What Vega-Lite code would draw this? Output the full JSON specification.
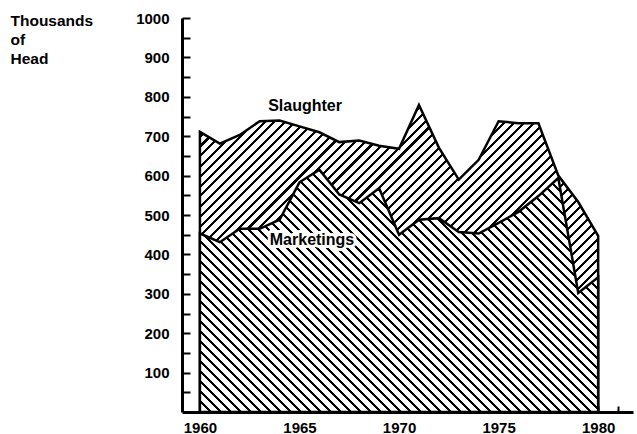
{
"$schema":"https://vega.github.io/schema/vega-lite/v6.json",
"width":451,"height":394,
"autosize":{"type":"none"},
"padding":{"left":182,"top":18,"right":4,"bottom":22},
"background":"white",
"config":{
"view":{"stroke":null},
"axis":{"domainColor":"black","domainWidth":3,"tickColor":"black","labelColor":"black","labelFont":"Liberation Sans","labelFontWeight":"bold","grid":false,"labelOverlap":false,"labelFlush":false,"zindex":1,"titleColor":"black"},
"axisX":{"tickSize":-6,"tickWidth":2,"labelFontSize":15,"labelPadding":14},
"axisY":{"tickSize":-8,"tickWidth":2,"labelFontSize":15,"labelPadding":21,"titleAngle":0,"titleAlign":"left","titleBaseline":"alphabetic","titleX":-172,"titleY":7,"titleFont":"Liberation Sans","titleFontWeight":"bold","titleFontSize":15.5,"titleLineHeight":19}
},
"datasets":{
"series":[
{"year":1960,"slaughter":711,"marketings":453},
{"year":1961,"slaughter":681,"marketings":431},
{"year":1962,"slaughter":703,"marketings":465},
{"year":1963,"slaughter":738,"marketings":465},
{"year":1964,"slaughter":740,"marketings":488},
{"year":1965,"slaughter":725,"marketings":583},
{"year":1966,"slaughter":710,"marketings":615},
{"year":1967,"slaughter":685,"marketings":552},
{"year":1968,"slaughter":689,"marketings":530},
{"year":1969,"slaughter":676,"marketings":568},
{"year":1970,"slaughter":668,"marketings":450},
{"year":1971,"slaughter":779,"marketings":488},
{"year":1972,"slaughter":671,"marketings":492},
{"year":1973,"slaughter":590,"marketings":457},
{"year":1974,"slaughter":640,"marketings":453},
{"year":1975,"slaughter":738,"marketings":480},
{"year":1976,"slaughter":733,"marketings":508},
{"year":1977,"slaughter":733,"marketings":548},
{"year":1978,"slaughter":600,"marketings":594},
{"year":1979,"slaughter":533,"marketings":302},
{"year":1980,"slaughter":447,"marketings":342}
],
"labels":[
{"label":"Slaughter","year":1965.28,"value":776},
{"label":"Marketings","year":1965.63,"value":436}
]
},
"layer":[
{"data":{"name":"series"},
"mark":{"type":"area","stroke":"black","strokeWidth":2.5,"strokeJoin":"miter",
"fill":{"gradient":"linear","x1":0,"y1":0,"x2":1.0083,"y2":0.7771,"stops":[
{"offset":0,"color":"#000"},{"offset":0.0047,"color":"#000"},{"offset":0.0047,"color":"#fff"},{"offset":0.0156,"color":"#fff"},
{"offset":0.0156,"color":"#000"},{"offset":0.0203,"color":"#000"},{"offset":0.0203,"color":"#fff"},{"offset":0.0313,"color":"#fff"},
{"offset":0.0313,"color":"#000"},{"offset":0.036,"color":"#000"},{"offset":0.036,"color":"#fff"},{"offset":0.0469,"color":"#fff"},
{"offset":0.0469,"color":"#000"},{"offset":0.0516,"color":"#000"},{"offset":0.0516,"color":"#fff"},{"offset":0.0625,"color":"#fff"},
{"offset":0.0625,"color":"#000"},{"offset":0.0672,"color":"#000"},{"offset":0.0672,"color":"#fff"},{"offset":0.0781,"color":"#fff"},
{"offset":0.0781,"color":"#000"},{"offset":0.0828,"color":"#000"},{"offset":0.0828,"color":"#fff"},{"offset":0.0938,"color":"#fff"},
{"offset":0.0938,"color":"#000"},{"offset":0.0985,"color":"#000"},{"offset":0.0985,"color":"#fff"},{"offset":0.1094,"color":"#fff"},
{"offset":0.1094,"color":"#000"},{"offset":0.1141,"color":"#000"},{"offset":0.1141,"color":"#fff"},{"offset":0.125,"color":"#fff"},
{"offset":0.125,"color":"#000"},{"offset":0.1297,"color":"#000"},{"offset":0.1297,"color":"#fff"},{"offset":0.1406,"color":"#fff"},
{"offset":0.1406,"color":"#000"},{"offset":0.1453,"color":"#000"},{"offset":0.1453,"color":"#fff"},{"offset":0.1563,"color":"#fff"},
{"offset":0.1563,"color":"#000"},{"offset":0.161,"color":"#000"},{"offset":0.161,"color":"#fff"},{"offset":0.1719,"color":"#fff"},
{"offset":0.1719,"color":"#000"},{"offset":0.1766,"color":"#000"},{"offset":0.1766,"color":"#fff"},{"offset":0.1875,"color":"#fff"},
{"offset":0.1875,"color":"#000"},{"offset":0.1922,"color":"#000"},{"offset":0.1922,"color":"#fff"},{"offset":0.2031,"color":"#fff"},
{"offset":0.2031,"color":"#000"},{"offset":0.2078,"color":"#000"},{"offset":0.2078,"color":"#fff"},{"offset":0.2188,"color":"#fff"},
{"offset":0.2188,"color":"#000"},{"offset":0.2235,"color":"#000"},{"offset":0.2235,"color":"#fff"},{"offset":0.2344,"color":"#fff"},
{"offset":0.2344,"color":"#000"},{"offset":0.2391,"color":"#000"},{"offset":0.2391,"color":"#fff"},{"offset":0.25,"color":"#fff"},
{"offset":0.25,"color":"#000"},{"offset":0.2547,"color":"#000"},{"offset":0.2547,"color":"#fff"},{"offset":0.2656,"color":"#fff"},
{"offset":0.2656,"color":"#000"},{"offset":0.2703,"color":"#000"},{"offset":0.2703,"color":"#fff"},{"offset":0.2813,"color":"#fff"},
{"offset":0.2813,"color":"#000"},{"offset":0.286,"color":"#000"},{"offset":0.286,"color":"#fff"},{"offset":0.2969,"color":"#fff"},
{"offset":0.2969,"color":"#000"},{"offset":0.3016,"color":"#000"},{"offset":0.3016,"color":"#fff"},{"offset":0.3125,"color":"#fff"},
{"offset":0.3125,"color":"#000"},{"offset":0.3172,"color":"#000"},{"offset":0.3172,"color":"#fff"},{"offset":0.3281,"color":"#fff"},
{"offset":0.3281,"color":"#000"},{"offset":0.3328,"color":"#000"},{"offset":0.3328,"color":"#fff"},{"offset":0.3438,"color":"#fff"},
{"offset":0.3438,"color":"#000"},{"offset":0.3485,"color":"#000"},{"offset":0.3485,"color":"#fff"},{"offset":0.3594,"color":"#fff"},
{"offset":0.3594,"color":"#000"},{"offset":0.3641,"color":"#000"},{"offset":0.3641,"color":"#fff"},{"offset":0.375,"color":"#fff"},
{"offset":0.375,"color":"#000"},{"offset":0.3797,"color":"#000"},{"offset":0.3797,"color":"#fff"},{"offset":0.3906,"color":"#fff"},
{"offset":0.3906,"color":"#000"},{"offset":0.3953,"color":"#000"},{"offset":0.3953,"color":"#fff"},{"offset":0.4063,"color":"#fff"},
{"offset":0.4063,"color":"#000"},{"offset":0.411,"color":"#000"},{"offset":0.411,"color":"#fff"},{"offset":0.4219,"color":"#fff"},
{"offset":0.4219,"color":"#000"},{"offset":0.4266,"color":"#000"},{"offset":0.4266,"color":"#fff"},{"offset":0.4375,"color":"#fff"},
{"offset":0.4375,"color":"#000"},{"offset":0.4422,"color":"#000"},{"offset":0.4422,"color":"#fff"},{"offset":0.4531,"color":"#fff"},
{"offset":0.4531,"color":"#000"},{"offset":0.4578,"color":"#000"},{"offset":0.4578,"color":"#fff"},{"offset":0.4688,"color":"#fff"},
{"offset":0.4688,"color":"#000"},{"offset":0.4735,"color":"#000"},{"offset":0.4735,"color":"#fff"},{"offset":0.4844,"color":"#fff"},
{"offset":0.4844,"color":"#000"},{"offset":0.4891,"color":"#000"},{"offset":0.4891,"color":"#fff"},{"offset":0.5,"color":"#fff"},
{"offset":0.5,"color":"#000"},{"offset":0.5047,"color":"#000"},{"offset":0.5047,"color":"#fff"},{"offset":0.5156,"color":"#fff"},
{"offset":0.5156,"color":"#000"},{"offset":0.5203,"color":"#000"},{"offset":0.5203,"color":"#fff"},{"offset":0.5313,"color":"#fff"},
{"offset":0.5313,"color":"#000"},{"offset":0.536,"color":"#000"},{"offset":0.536,"color":"#fff"},{"offset":0.5469,"color":"#fff"},
{"offset":0.5469,"color":"#000"},{"offset":0.5516,"color":"#000"},{"offset":0.5516,"color":"#fff"},{"offset":0.5625,"color":"#fff"},
{"offset":0.5625,"color":"#000"},{"offset":0.5672,"color":"#000"},{"offset":0.5672,"color":"#fff"},{"offset":0.5781,"color":"#fff"},
{"offset":0.5781,"color":"#000"},{"offset":0.5828,"color":"#000"},{"offset":0.5828,"color":"#fff"},{"offset":0.5938,"color":"#fff"},
{"offset":0.5938,"color":"#000"},{"offset":0.5985,"color":"#000"},{"offset":0.5985,"color":"#fff"},{"offset":0.6094,"color":"#fff"},
{"offset":0.6094,"color":"#000"},{"offset":0.6141,"color":"#000"},{"offset":0.6141,"color":"#fff"},{"offset":0.625,"color":"#fff"},
{"offset":0.625,"color":"#000"},{"offset":0.6297,"color":"#000"},{"offset":0.6297,"color":"#fff"},{"offset":0.6406,"color":"#fff"},
{"offset":0.6406,"color":"#000"},{"offset":0.6453,"color":"#000"},{"offset":0.6453,"color":"#fff"},{"offset":0.6563,"color":"#fff"},
{"offset":0.6563,"color":"#000"},{"offset":0.661,"color":"#000"},{"offset":0.661,"color":"#fff"},{"offset":0.6719,"color":"#fff"},
{"offset":0.6719,"color":"#000"},{"offset":0.6766,"color":"#000"},{"offset":0.6766,"color":"#fff"},{"offset":0.6875,"color":"#fff"},
{"offset":0.6875,"color":"#000"},{"offset":0.6922,"color":"#000"},{"offset":0.6922,"color":"#fff"},{"offset":0.7031,"color":"#fff"},
{"offset":0.7031,"color":"#000"},{"offset":0.7078,"color":"#000"},{"offset":0.7078,"color":"#fff"},{"offset":0.7188,"color":"#fff"},
{"offset":0.7188,"color":"#000"},{"offset":0.7235,"color":"#000"},{"offset":0.7235,"color":"#fff"},{"offset":0.7344,"color":"#fff"},
{"offset":0.7344,"color":"#000"},{"offset":0.7391,"color":"#000"},{"offset":0.7391,"color":"#fff"},{"offset":0.75,"color":"#fff"},
{"offset":0.75,"color":"#000"},{"offset":0.7547,"color":"#000"},{"offset":0.7547,"color":"#fff"},{"offset":0.7656,"color":"#fff"},
{"offset":0.7656,"color":"#000"},{"offset":0.7703,"color":"#000"},{"offset":0.7703,"color":"#fff"},{"offset":0.7813,"color":"#fff"},
{"offset":0.7813,"color":"#000"},{"offset":0.786,"color":"#000"},{"offset":0.786,"color":"#fff"},{"offset":0.7969,"color":"#fff"},
{"offset":0.7969,"color":"#000"},{"offset":0.8016,"color":"#000"},{"offset":0.8016,"color":"#fff"},{"offset":0.8125,"color":"#fff"},
{"offset":0.8125,"color":"#000"},{"offset":0.8172,"color":"#000"},{"offset":0.8172,"color":"#fff"},{"offset":0.8281,"color":"#fff"},
{"offset":0.8281,"color":"#000"},{"offset":0.8328,"color":"#000"},{"offset":0.8328,"color":"#fff"},{"offset":0.8438,"color":"#fff"},
{"offset":0.8438,"color":"#000"},{"offset":0.8485,"color":"#000"},{"offset":0.8485,"color":"#fff"},{"offset":0.8594,"color":"#fff"},
{"offset":0.8594,"color":"#000"},{"offset":0.8641,"color":"#000"},{"offset":0.8641,"color":"#fff"},{"offset":0.875,"color":"#fff"},
{"offset":0.875,"color":"#000"},{"offset":0.8797,"color":"#000"},{"offset":0.8797,"color":"#fff"},{"offset":0.8906,"color":"#fff"},
{"offset":0.8906,"color":"#000"},{"offset":0.8953,"color":"#000"},{"offset":0.8953,"color":"#fff"},{"offset":0.9063,"color":"#fff"},
{"offset":0.9063,"color":"#000"},{"offset":0.911,"color":"#000"},{"offset":0.911,"color":"#fff"},{"offset":0.9219,"color":"#fff"},
{"offset":0.9219,"color":"#000"},{"offset":0.9266,"color":"#000"},{"offset":0.9266,"color":"#fff"},{"offset":0.9375,"color":"#fff"},
{"offset":0.9375,"color":"#000"},{"offset":0.9422,"color":"#000"},{"offset":0.9422,"color":"#fff"},{"offset":0.9531,"color":"#fff"},
{"offset":0.9531,"color":"#000"},{"offset":0.9578,"color":"#000"},{"offset":0.9578,"color":"#fff"},{"offset":0.9688,"color":"#fff"},
{"offset":0.9688,"color":"#000"},{"offset":0.9735,"color":"#000"},{"offset":0.9735,"color":"#fff"},{"offset":0.9844,"color":"#fff"},
{"offset":0.9844,"color":"#000"},{"offset":0.9891,"color":"#000"},{"offset":0.9891,"color":"#fff"},{"offset":1,"color":"#fff"}
]}},
"encoding":{
"x":{"field":"year","type":"quantitative","title":null,"scale":{"domain":[1959.1,1981.75],"nice":false,"zero":false},
"axis":{"values":[1960,1961,1962,1963,1964,1965,1966,1967,1968,1969,1970,1971,1972,1973,1974,1975,1976,1977,1978,1979,1980,1981],"tickCount":100,"format":"d","labelOverlap":false,"labelFlush":false,"labelExpr":"datum.value % 5 == 0 ? datum.label : ''"}},
"y":{"field":"slaughter","type":"quantitative","stack":null,"title":["Thousands","of","Head"],"scale":{"domain":[0,1000],"nice":false},
"axis":{"values":[50,100,150,200,250,300,350,400,450,500,550,600,650,700,750,800,850,900,950,1000],"tickCount":100,"format":"d","labelOverlap":false,"labelExpr":"datum.value % 100 == 0 ? datum.label : ''"}}
}},
{"data":{"name":"series"},
"mark":{"type":"area","stroke":"black","strokeWidth":2.5,"strokeJoin":"miter",
"fill":{"gradient":"linear","x1":0,"y1":1,"x2":1.1729,"y2":0.2863,"stops":[
{"offset":0,"color":"#000"},{"offset":0.0047,"color":"#000"},{"offset":0.0047,"color":"#fff"},{"offset":0.0156,"color":"#fff"},
{"offset":0.0156,"color":"#000"},{"offset":0.0203,"color":"#000"},{"offset":0.0203,"color":"#fff"},{"offset":0.0313,"color":"#fff"},
{"offset":0.0313,"color":"#000"},{"offset":0.036,"color":"#000"},{"offset":0.036,"color":"#fff"},{"offset":0.0469,"color":"#fff"},
{"offset":0.0469,"color":"#000"},{"offset":0.0516,"color":"#000"},{"offset":0.0516,"color":"#fff"},{"offset":0.0625,"color":"#fff"},
{"offset":0.0625,"color":"#000"},{"offset":0.0672,"color":"#000"},{"offset":0.0672,"color":"#fff"},{"offset":0.0781,"color":"#fff"},
{"offset":0.0781,"color":"#000"},{"offset":0.0828,"color":"#000"},{"offset":0.0828,"color":"#fff"},{"offset":0.0938,"color":"#fff"},
{"offset":0.0938,"color":"#000"},{"offset":0.0985,"color":"#000"},{"offset":0.0985,"color":"#fff"},{"offset":0.1094,"color":"#fff"},
{"offset":0.1094,"color":"#000"},{"offset":0.1141,"color":"#000"},{"offset":0.1141,"color":"#fff"},{"offset":0.125,"color":"#fff"},
{"offset":0.125,"color":"#000"},{"offset":0.1297,"color":"#000"},{"offset":0.1297,"color":"#fff"},{"offset":0.1406,"color":"#fff"},
{"offset":0.1406,"color":"#000"},{"offset":0.1453,"color":"#000"},{"offset":0.1453,"color":"#fff"},{"offset":0.1563,"color":"#fff"},
{"offset":0.1563,"color":"#000"},{"offset":0.161,"color":"#000"},{"offset":0.161,"color":"#fff"},{"offset":0.1719,"color":"#fff"},
{"offset":0.1719,"color":"#000"},{"offset":0.1766,"color":"#000"},{"offset":0.1766,"color":"#fff"},{"offset":0.1875,"color":"#fff"},
{"offset":0.1875,"color":"#000"},{"offset":0.1922,"color":"#000"},{"offset":0.1922,"color":"#fff"},{"offset":0.2031,"color":"#fff"},
{"offset":0.2031,"color":"#000"},{"offset":0.2078,"color":"#000"},{"offset":0.2078,"color":"#fff"},{"offset":0.2188,"color":"#fff"},
{"offset":0.2188,"color":"#000"},{"offset":0.2235,"color":"#000"},{"offset":0.2235,"color":"#fff"},{"offset":0.2344,"color":"#fff"},
{"offset":0.2344,"color":"#000"},{"offset":0.2391,"color":"#000"},{"offset":0.2391,"color":"#fff"},{"offset":0.25,"color":"#fff"},
{"offset":0.25,"color":"#000"},{"offset":0.2547,"color":"#000"},{"offset":0.2547,"color":"#fff"},{"offset":0.2656,"color":"#fff"},
{"offset":0.2656,"color":"#000"},{"offset":0.2703,"color":"#000"},{"offset":0.2703,"color":"#fff"},{"offset":0.2813,"color":"#fff"},
{"offset":0.2813,"color":"#000"},{"offset":0.286,"color":"#000"},{"offset":0.286,"color":"#fff"},{"offset":0.2969,"color":"#fff"},
{"offset":0.2969,"color":"#000"},{"offset":0.3016,"color":"#000"},{"offset":0.3016,"color":"#fff"},{"offset":0.3125,"color":"#fff"},
{"offset":0.3125,"color":"#000"},{"offset":0.3172,"color":"#000"},{"offset":0.3172,"color":"#fff"},{"offset":0.3281,"color":"#fff"},
{"offset":0.3281,"color":"#000"},{"offset":0.3328,"color":"#000"},{"offset":0.3328,"color":"#fff"},{"offset":0.3438,"color":"#fff"},
{"offset":0.3438,"color":"#000"},{"offset":0.3485,"color":"#000"},{"offset":0.3485,"color":"#fff"},{"offset":0.3594,"color":"#fff"},
{"offset":0.3594,"color":"#000"},{"offset":0.3641,"color":"#000"},{"offset":0.3641,"color":"#fff"},{"offset":0.375,"color":"#fff"},
{"offset":0.375,"color":"#000"},{"offset":0.3797,"color":"#000"},{"offset":0.3797,"color":"#fff"},{"offset":0.3906,"color":"#fff"},
{"offset":0.3906,"color":"#000"},{"offset":0.3953,"color":"#000"},{"offset":0.3953,"color":"#fff"},{"offset":0.4063,"color":"#fff"},
{"offset":0.4063,"color":"#000"},{"offset":0.411,"color":"#000"},{"offset":0.411,"color":"#fff"},{"offset":0.4219,"color":"#fff"},
{"offset":0.4219,"color":"#000"},{"offset":0.4266,"color":"#000"},{"offset":0.4266,"color":"#fff"},{"offset":0.4375,"color":"#fff"},
{"offset":0.4375,"color":"#000"},{"offset":0.4422,"color":"#000"},{"offset":0.4422,"color":"#fff"},{"offset":0.4531,"color":"#fff"},
{"offset":0.4531,"color":"#000"},{"offset":0.4578,"color":"#000"},{"offset":0.4578,"color":"#fff"},{"offset":0.4688,"color":"#fff"},
{"offset":0.4688,"color":"#000"},{"offset":0.4735,"color":"#000"},{"offset":0.4735,"color":"#fff"},{"offset":0.4844,"color":"#fff"},
{"offset":0.4844,"color":"#000"},{"offset":0.4891,"color":"#000"},{"offset":0.4891,"color":"#fff"},{"offset":0.5,"color":"#fff"},
{"offset":0.5,"color":"#000"},{"offset":0.5047,"color":"#000"},{"offset":0.5047,"color":"#fff"},{"offset":0.5156,"color":"#fff"},
{"offset":0.5156,"color":"#000"},{"offset":0.5203,"color":"#000"},{"offset":0.5203,"color":"#fff"},{"offset":0.5313,"color":"#fff"},
{"offset":0.5313,"color":"#000"},{"offset":0.536,"color":"#000"},{"offset":0.536,"color":"#fff"},{"offset":0.5469,"color":"#fff"},
{"offset":0.5469,"color":"#000"},{"offset":0.5516,"color":"#000"},{"offset":0.5516,"color":"#fff"},{"offset":0.5625,"color":"#fff"},
{"offset":0.5625,"color":"#000"},{"offset":0.5672,"color":"#000"},{"offset":0.5672,"color":"#fff"},{"offset":0.5781,"color":"#fff"},
{"offset":0.5781,"color":"#000"},{"offset":0.5828,"color":"#000"},{"offset":0.5828,"color":"#fff"},{"offset":0.5938,"color":"#fff"},
{"offset":0.5938,"color":"#000"},{"offset":0.5985,"color":"#000"},{"offset":0.5985,"color":"#fff"},{"offset":0.6094,"color":"#fff"},
{"offset":0.6094,"color":"#000"},{"offset":0.6141,"color":"#000"},{"offset":0.6141,"color":"#fff"},{"offset":0.625,"color":"#fff"},
{"offset":0.625,"color":"#000"},{"offset":0.6297,"color":"#000"},{"offset":0.6297,"color":"#fff"},{"offset":0.6406,"color":"#fff"},
{"offset":0.6406,"color":"#000"},{"offset":0.6453,"color":"#000"},{"offset":0.6453,"color":"#fff"},{"offset":0.6563,"color":"#fff"},
{"offset":0.6563,"color":"#000"},{"offset":0.661,"color":"#000"},{"offset":0.661,"color":"#fff"},{"offset":0.6719,"color":"#fff"},
{"offset":0.6719,"color":"#000"},{"offset":0.6766,"color":"#000"},{"offset":0.6766,"color":"#fff"},{"offset":0.6875,"color":"#fff"},
{"offset":0.6875,"color":"#000"},{"offset":0.6922,"color":"#000"},{"offset":0.6922,"color":"#fff"},{"offset":0.7031,"color":"#fff"},
{"offset":0.7031,"color":"#000"},{"offset":0.7078,"color":"#000"},{"offset":0.7078,"color":"#fff"},{"offset":0.7188,"color":"#fff"},
{"offset":0.7188,"color":"#000"},{"offset":0.7235,"color":"#000"},{"offset":0.7235,"color":"#fff"},{"offset":0.7344,"color":"#fff"},
{"offset":0.7344,"color":"#000"},{"offset":0.7391,"color":"#000"},{"offset":0.7391,"color":"#fff"},{"offset":0.75,"color":"#fff"},
{"offset":0.75,"color":"#000"},{"offset":0.7547,"color":"#000"},{"offset":0.7547,"color":"#fff"},{"offset":0.7656,"color":"#fff"},
{"offset":0.7656,"color":"#000"},{"offset":0.7703,"color":"#000"},{"offset":0.7703,"color":"#fff"},{"offset":0.7813,"color":"#fff"},
{"offset":0.7813,"color":"#000"},{"offset":0.786,"color":"#000"},{"offset":0.786,"color":"#fff"},{"offset":0.7969,"color":"#fff"},
{"offset":0.7969,"color":"#000"},{"offset":0.8016,"color":"#000"},{"offset":0.8016,"color":"#fff"},{"offset":0.8125,"color":"#fff"},
{"offset":0.8125,"color":"#000"},{"offset":0.8172,"color":"#000"},{"offset":0.8172,"color":"#fff"},{"offset":0.8281,"color":"#fff"},
{"offset":0.8281,"color":"#000"},{"offset":0.8328,"color":"#000"},{"offset":0.8328,"color":"#fff"},{"offset":0.8438,"color":"#fff"},
{"offset":0.8438,"color":"#000"},{"offset":0.8485,"color":"#000"},{"offset":0.8485,"color":"#fff"},{"offset":0.8594,"color":"#fff"},
{"offset":0.8594,"color":"#000"},{"offset":0.8641,"color":"#000"},{"offset":0.8641,"color":"#fff"},{"offset":0.875,"color":"#fff"},
{"offset":0.875,"color":"#000"},{"offset":0.8797,"color":"#000"},{"offset":0.8797,"color":"#fff"},{"offset":0.8906,"color":"#fff"},
{"offset":0.8906,"color":"#000"},{"offset":0.8953,"color":"#000"},{"offset":0.8953,"color":"#fff"},{"offset":0.9063,"color":"#fff"},
{"offset":0.9063,"color":"#000"},{"offset":0.911,"color":"#000"},{"offset":0.911,"color":"#fff"},{"offset":0.9219,"color":"#fff"},
{"offset":0.9219,"color":"#000"},{"offset":0.9266,"color":"#000"},{"offset":0.9266,"color":"#fff"},{"offset":0.9375,"color":"#fff"},
{"offset":0.9375,"color":"#000"},{"offset":0.9422,"color":"#000"},{"offset":0.9422,"color":"#fff"},{"offset":0.9531,"color":"#fff"},
{"offset":0.9531,"color":"#000"},{"offset":0.9578,"color":"#000"},{"offset":0.9578,"color":"#fff"},{"offset":0.9688,"color":"#fff"},
{"offset":0.9688,"color":"#000"},{"offset":0.9735,"color":"#000"},{"offset":0.9735,"color":"#fff"},{"offset":0.9844,"color":"#fff"},
{"offset":0.9844,"color":"#000"},{"offset":0.9891,"color":"#000"},{"offset":0.9891,"color":"#fff"},{"offset":1,"color":"#fff"}
]}},
"encoding":{
"x":{"field":"year","type":"quantitative","title":null},
"y":{"field":"marketings","type":"quantitative","stack":null,"title":["Thousands","of","Head"]}
}},
{"data":{"name":"labels"},
"mark":{"type":"text","font":"Liberation Sans","fontWeight":"bold","fontSize":16,"align":"center","baseline":"middle","fill":"white","stroke":"white","strokeWidth":6,"strokeJoin":"round"},
"encoding":{
"x":{"field":"year","type":"quantitative","title":null},
"y":{"field":"value","type":"quantitative","title":["Thousands","of","Head"]},
"text":{"field":"label","type":"nominal"}
}},
{"data":{"name":"labels"},
"mark":{"type":"text","font":"Liberation Sans","fontWeight":"bold","fontSize":16,"align":"center","baseline":"middle","fill":"black"},
"encoding":{
"x":{"field":"year","type":"quantitative","title":null},
"y":{"field":"value","type":"quantitative","title":["Thousands","of","Head"]},
"text":{"field":"label","type":"nominal"}
}}
]
}
